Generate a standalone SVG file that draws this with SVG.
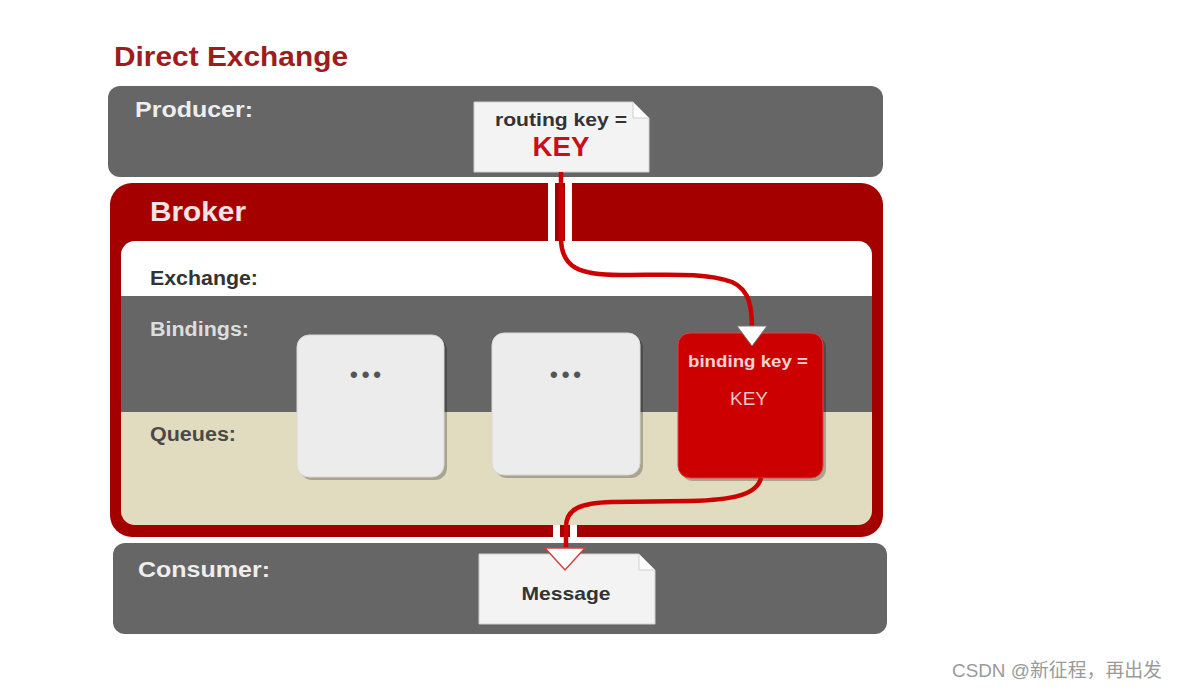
<svg xmlns="http://www.w3.org/2000/svg" width="1178" height="690" viewBox="0 0 1178 690">
<style>
.lbl{font-family:"Liberation Sans",Arial,sans-serif;font-weight:bold}
.band{fill:#666666}
.card{fill:#f3f3f3;stroke:#cfcfcf;stroke-width:1}
.fold{fill:#ffffff;stroke:#cfcfcf;stroke-width:1}
.queue{fill:#ececec;stroke:#d8d8d8;stroke-width:1}
.shadow{fill:#000;opacity:0.25}
.wire{fill:none;stroke:#cc0000;stroke-width:4.5;stroke-linecap:butt}
.casing{fill:#ffffff}
.dots{font-family:"Liberation Sans",Arial,sans-serif;font-weight:bold;font-size:22px;fill:#555555}
</style>
<rect width="1178" height="690" fill="#ffffff"/>
<text class="lbl" x="114" y="66" font-size="27" fill="#9e1b20" textLength="234" lengthAdjust="spacingAndGlyphs">Direct Exchange</text>

<g id="producer">
<rect class="band" x="108" y="86" width="775" height="91" rx="12"/>
<text class="lbl" x="135" y="117" font-size="22" fill="#eeeeee" textLength="118" lengthAdjust="spacingAndGlyphs">Producer:</text>
</g>

<g id="routing-key">
<path class="card" d="M474,102 H633 L649,118 V172 H474 Z"/>
<path class="fold" d="M633,102 L649,118 H633 Z"/>
<text class="lbl" x="561" y="126" font-size="18" fill="#333333" text-anchor="middle" textLength="132" lengthAdjust="spacingAndGlyphs">routing key =</text>
<text class="lbl" x="561" y="156" font-size="27" fill="#c8101a" text-anchor="middle" textLength="57" lengthAdjust="spacingAndGlyphs">KEY</text>
</g>

<g id="broker">
<rect x="110" y="183" width="773" height="354" rx="22" fill="#a50000"/>
<clipPath id="inner"><rect x="121" y="241" width="751" height="284" rx="14"/></clipPath>
<g clip-path="url(#inner)">
<rect x="121" y="241" width="751" height="55" fill="#ffffff"/>
<rect x="121" y="296" width="751" height="116" fill="#666666"/>
<rect x="121" y="412" width="751" height="113" fill="#e1dbbf"/>
</g>
<text class="lbl" x="150" y="221" font-size="28" fill="#f3e3e3" textLength="96" lengthAdjust="spacingAndGlyphs">Broker</text>
</g>

<g id="exchange">
<text class="lbl" x="150" y="285" font-size="20" fill="#333333" textLength="108" lengthAdjust="spacingAndGlyphs">Exchange:</text>
</g>
<g id="bindings">
<text class="lbl" x="150" y="336" font-size="20" fill="#dddddd" textLength="99" lengthAdjust="spacingAndGlyphs">Bindings:</text>
</g>
<g id="queues">
<text class="lbl" x="150" y="441" font-size="20" fill="#4a4a4a" textLength="86" lengthAdjust="spacingAndGlyphs">Queues:</text>
</g>

<g id="queue-1">
<rect class="shadow" x="300" y="338" width="147" height="142" rx="12"/>
<rect class="queue" x="297" y="335" width="147" height="142" rx="12"/>
<text class="dots" x="350" y="382" textLength="31" lengthAdjust="spacing">•••</text>
</g>
<g id="queue-2">
<rect class="shadow" x="495" y="336" width="148" height="142" rx="12"/>
<rect class="queue" x="492" y="333" width="148" height="142" rx="12"/>
<text class="dots" x="550" y="382" textLength="31" lengthAdjust="spacing">•••</text>
</g>
<g id="queue-key">
<rect class="shadow" x="681" y="336" width="145" height="145" rx="12"/>
<rect x="678" y="333" width="145" height="145" rx="12" fill="#cc0000" stroke="#e04040" stroke-width="1"/>
<text class="lbl" x="748" y="367" font-size="17" fill="#f3d3d3" text-anchor="middle" textLength="120" lengthAdjust="spacingAndGlyphs">binding key =</text>
<text x="749" y="405" font-family="Liberation Sans,Arial,sans-serif" font-size="19" fill="#ecc6c6" text-anchor="middle">KEY</text>
</g>

<g id="consumer">
<rect class="band" x="113" y="543" width="774" height="91" rx="12"/>
<text class="lbl" x="138" y="577" font-size="22" fill="#eeeeee" textLength="132" lengthAdjust="spacingAndGlyphs">Consumer:</text>
</g>

<g id="message">
<path class="card" d="M479,554 H639 L655,570 V624 H479 Z"/>
<path class="fold" d="M639,554 L655,570 H639 Z"/>
<text class="lbl" x="566" y="600" font-size="19" fill="#333333" text-anchor="middle" textLength="89" lengthAdjust="spacingAndGlyphs">Message</text>
</g>

<g id="connectors">
<rect class="casing" x="548" y="177" width="24" height="64"/>
<rect x="555" y="183" width="10" height="58" fill="#a50000"/>
<path class="wire" d="M561,172 V238 C561,268 580,275 620,275 C665,275 705,272 732,282 C750,290 752,308 752,330"/>
<path d="M737,326 H767 L752,346 Z" fill="#ffffff" stroke="#777777" stroke-width="1"/>
<rect class="casing" x="553" y="525" width="24" height="18"/>
<rect x="560" y="525" width="10" height="12" fill="#a50000"/>
<path class="wire" d="M761,478 C757,494 735,500 690,501 L612,502 C578,503 566,510 566,527 V550"/>
<path d="M545,548 H585 L565,570 Z" fill="#ffffff" stroke="#d04040" stroke-width="1.5"/>
</g>

<text x="952" y="677" font-family="Liberation Sans,'Noto Sans CJK SC',sans-serif" font-size="19" fill="#9a9a9a" textLength="210" lengthAdjust="spacingAndGlyphs">CSDN @新征程，再出发</text>
</svg>
